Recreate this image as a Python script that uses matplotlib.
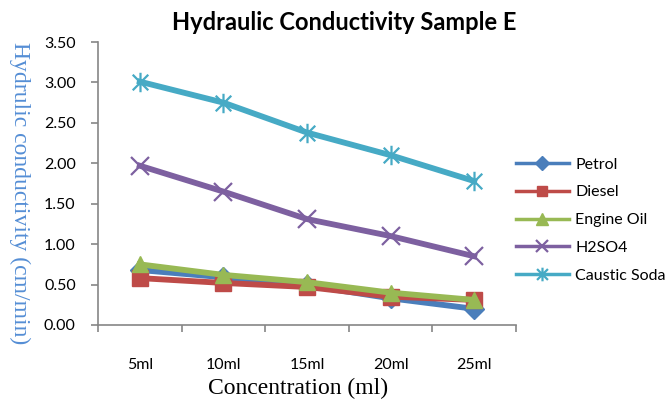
import matplotlib
matplotlib.use("Agg")
import matplotlib.pyplot as plt
import numpy as np
from matplotlib.path import Path

categories = ["5ml", "10ml", "15ml", "20ml", "25ml"]
petrol = [0.68, 0.59, 0.49, 0.33, 0.20]
diesel = [0.58, 0.52, 0.47, 0.35, 0.31]
engine_oil = [0.75, 0.62, 0.53, 0.40, 0.31]
h2so4 = [1.97, 1.65, 1.31, 1.10, 0.85]
caustic_soda = [3.01, 2.75, 2.38, 2.10, 1.78]
yticks = [0.0, 0.5, 1.0, 1.5, 2.0, 2.5, 3.0, 3.5]

# star marker: an x with a vertical bar through it
star = Path([(-1, -1), (1, 1), (-1, 1), (1, -1), (0, -1.25), (0, 1.25)],
            [Path.MOVETO, Path.LINETO, Path.MOVETO, Path.LINETO, Path.MOVETO, Path.LINETO])

series = [
    ("Petrol", petrol, "#4A7EBB", "D", 10, 1),
    ("Diesel", diesel, "#BE4B48", "s", 11, 1),
    ("Engine Oil", engine_oil, "#98B954", "^", 12, 1),
    ("H2SO4", h2so4, "#7D60A0", "x", 13, 1.6),
    ("Caustic Soda", caustic_soda, "#46AAC5", star, 14, 1.6),
]

fig = plt.figure(figsize=(6.72, 4.0), dpi=100)
ax = fig.add_axes([98 / 672, 1 - 325 / 400, (516 - 98) / 672, (325 - 42) / 400])

x = np.arange(len(categories))
for name, vals, color, marker, ms, mew in series:
    ax.plot(x, vals, color=color, lw=4.2, marker=marker, markersize=ms,
            markeredgewidth=mew, markeredgecolor=color, markerfacecolor=color,
            label=name)

ax.set_xlim(-0.5, 4.5)
ax.set_ylim(0, 3.5)
ax.set_yticks(yticks)
ax.set_yticklabels([f"{v:.2f}" for v in yticks], fontsize=11.5, family="Lato")
ax.set_xticks(x)
ax.set_xticklabels(categories, fontsize=11.5, family="Lato")
ax.set_xticks(np.arange(-0.5, 5.0, 1.0), minor=True)
ax.tick_params(axis="x", which="major", length=0, pad=24)
ax.tick_params(axis="x", which="minor", length=5, color="#868686", width=1.2)
ax.tick_params(axis="y", length=5, color="#868686", width=1.2, pad=11)

for side in ("top", "right"):
    ax.spines[side].set_visible(False)
for side in ("left", "bottom"):
    ax.spines[side].set_color("#868686")
    ax.spines[side].set_linewidth(1.2)

fig.text(344 / 672, 1 - 22 / 400, "Hydraulic Conductivity Sample E",
         ha="center", va="center", fontsize=17, fontweight="bold", family="Lato")
fig.text(298 / 672, 1 - 388 / 400, "Concentration (ml)", ha="center", va="center",
         fontsize=17, family="Liberation Serif")
fig.text(20 / 672, 1 - 193 / 400, "Hydrulic conductivity (cm/min)", ha="center",
         va="center", rotation=270, fontsize=17, family="Liberation Serif", color="#558ED5")

leg = ax.legend(loc="center left", bbox_to_anchor=(516 / 672, 1 - 220 / 400),
                bbox_transform=fig.transFigure, frameon=False, borderpad=0,
                borderaxespad=0, prop={"family": "Lato", "size": 11.5},
                handlelength=3.3, labelspacing=0.85, handletextpad=0.4,
                markerscale=0.7)
for line in leg.get_lines():
    line.set_linewidth(2.5)

fig.savefig("out.png", dpi=100)
